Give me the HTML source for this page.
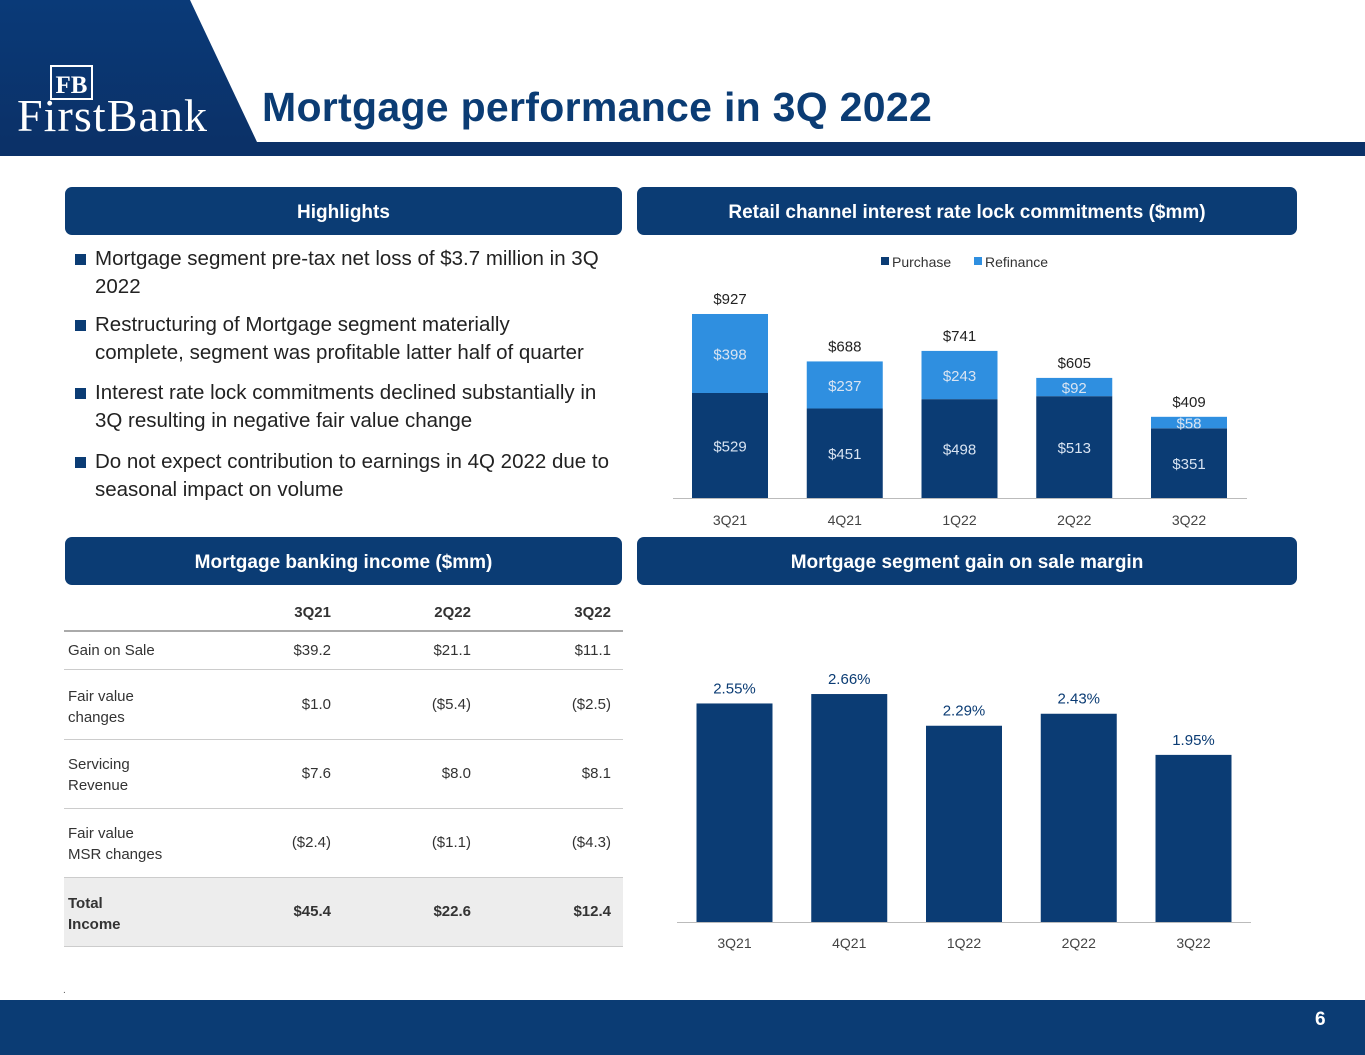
<!DOCTYPE html>
<html><head><meta charset="utf-8"><style>
body{margin:0;width:1365px;height:1055px;position:relative;overflow:hidden;background:#fff;font-family:"Liberation Sans",Arial,sans-serif}
.abs{position:absolute}
.hdr{position:absolute;background:#0b3c74;color:#fff;font-weight:bold;font-size:19px;border-radius:7px;display:flex;align-items:center;justify-content:center;padding-top:4px;box-sizing:border-box}
.bul{position:absolute;left:75px;width:528px;font-size:20.5px;color:#222;line-height:28px}
.bul:before{content:"";position:absolute;left:0;top:9px;width:11px;height:11px;background:#0b3c74}
.bul span{display:block;padding-left:20px}
.tr{position:absolute;left:64px;width:559px;font-size:15px;color:#333}
.tr div{position:absolute}
</style></head><body>
<svg class="abs" style="left:0;top:0" width="1365" height="160">
<defs><linearGradient id="g" x1="0" y1="0" x2="0" y2="1"><stop offset="0" stop-color="#0a3a78"/><stop offset="1" stop-color="#0b3168"/></linearGradient></defs>
<polygon points="0,0 190,0 257,142 0,142" fill="url(#g)"/>
<rect x="0" y="142" width="1365" height="14" fill="#0b3168"/>
<rect x="51" y="66" width="41" height="33" fill="none" stroke="#fff" stroke-width="2"/>
<text x="71.5" y="93" fill="#fff" font-family="Liberation Serif" font-size="25" font-weight="bold" text-anchor="middle">FB</text>
<text x="112" y="131" fill="#fff" font-family="Liberation Serif" font-size="46" text-anchor="middle" textLength="190">FirstBank</text>
</svg>
<div class="abs" style="left:262px;top:84px;font-size:41px;font-weight:bold;color:#0b3c74;letter-spacing:0.3px">Mortgage performance in 3Q 2022</div>

<div class="hdr" style="left:65px;top:187px;width:557px;height:48px">Highlights</div>
<div class="hdr" style="left:637px;top:187px;width:660px;height:48px">Retail channel interest rate lock commitments ($mm)</div>
<div class="hdr" style="left:65px;top:537px;width:557px;height:48px">Mortgage banking income ($mm)</div>
<div class="hdr" style="left:637px;top:537px;width:660px;height:48px">Mortgage segment gain on sale margin</div>

<div class="bul" style="top:245px;width:545px"><span>Mortgage segment pre-tax net loss of $3.7 million in 3Q 2022</span></div>
<div class="bul" style="top:311px"><span>Restructuring of Mortgage segment materially complete, segment was profitable latter half of quarter</span></div>
<div class="bul" style="top:379px"><span>Interest rate lock commitments declined substantially in 3Q resulting in negative fair value change</span></div>
<div class="bul" style="top:448px;width:545px"><span>Do not expect contribution to earnings in 4Q 2022 due to seasonal impact on volume</span></div>

<svg class="abs" id="c1" style="left:0;top:0" width="1365" height="1055"></svg>

<div>
<div class="tr" style="top:596px;height:34px;border-bottom:2px solid #aaa;font-weight:bold"><div style="right:292px;top:8px">3Q21</div><div style="right:152px;top:8px">2Q22</div><div style="right:12px;top:8px">3Q22</div></div>
<div class="tr" style="top:632px;height:37px;border-bottom:1px solid #ccc"><div style="left:4px;top:10px">Gain on Sale</div><div style="right:292px;top:10px">$39.2</div><div style="right:152px;top:10px">$21.1</div><div style="right:12px;top:10px">$11.1</div></div>
<div class="tr" style="top:670px;height:69px;border-bottom:1px solid #ccc"><div style="left:4px;top:16px;line-height:21px">Fair value<br>changes</div><div style="right:292px;top:26px">$1.0</div><div style="right:152px;top:26px">($5.4)</div><div style="right:12px;top:26px">($2.5)</div></div>
<div class="tr" style="top:740px;height:68px;border-bottom:1px solid #ccc"><div style="left:4px;top:14px;line-height:21px">Servicing<br>Revenue</div><div style="right:292px;top:25px">$7.6</div><div style="right:152px;top:25px">$8.0</div><div style="right:12px;top:25px">$8.1</div></div>
<div class="tr" style="top:809px;height:68px;border-bottom:1px solid #ccc"><div style="left:4px;top:14px;line-height:21px">Fair value<br>MSR changes</div><div style="right:292px;top:25px">($2.4)</div><div style="right:152px;top:25px">($1.1)</div><div style="right:12px;top:25px">($4.3)</div></div>
<div class="tr" style="top:878px;height:68px;background:#ededed;border-bottom:1px solid #ccc;font-weight:bold"><div style="left:4px;top:15px;line-height:21px">Total<br>Income</div><div style="right:292px;top:25px">$45.4</div><div style="right:152px;top:25px">$22.6</div><div style="right:12px;top:25px">$12.4</div></div>
</div>

<div class="abs" style="left:63px;top:985px;font-size:10px;color:#555">.</div>
<div class="abs" style="left:0;top:1000px;width:1365px;height:55px;background:#0b3c74"></div>
<div class="abs" style="left:1315px;top:1009px;color:#fff;font-weight:bold;font-size:19px">6</div>

<script>
const cats=["3Q21","4Q21","1Q22","2Q22","3Q22"];
const purchase=[529,451,498,513,351];
const refinance=[398,237,243,92,58];
const totals=[927,688,741,605,409];
const margin=[2.55,2.66,2.29,2.43,1.95];
const NS="http://www.w3.org/2000/svg";
const svg=document.getElementById('c1');
function mk(t,a,txt){const e=document.createElementNS(NS,t);for(const k in a)e.setAttribute(k,a[k]);if(txt!==undefined)e.textContent=txt;svg.appendChild(e);return e;}
const x1=i=>730+i*114.75, y1=v=>498-v*0.1985, bw=76;
cats.forEach((c,i)=>{
 const cx=x1(i);
 let r=mk('rect',{x:cx-bw/2,y:y1(purchase[i]),width:bw,height:498-y1(purchase[i]),fill:'#0b3c74'});
 
 
 let r2=mk('rect',{x:cx-bw/2,y:y1(purchase[i]+refinance[i]),width:bw,height:y1(purchase[i])-y1(purchase[i]+refinance[i]),fill:'#2f8fe0'});
 
 
 mk('text',{x:cx,y:(y1(purchase[i])+498)/2+6,fill:'#d9e4f2','font-size':15,'text-anchor':'middle'},'$'+purchase[i]);
 mk('text',{x:cx,y:(y1(purchase[i])+y1(purchase[i]+refinance[i]))/2+6,fill:'#d9e4f2','font-size':15,'text-anchor':'middle'},'$'+refinance[i]);
 mk('text',{x:cx,y:y1(totals[i])-10,fill:'#222','font-size':15,'text-anchor':'middle'},'$'+totals[i]);
 mk('text',{x:cx,y:525,fill:'#444','font-size':14,'text-anchor':'middle'},c);
});
mk('line',{x1:673,x2:1247,y1:498.5,y2:498.5,stroke:'#bbb'});
mk('rect',{x:881,y:257,width:8,height:8,fill:'#0b3c74'});
mk('text',{x:892,y:267,'font-size':14,fill:'#333'},'Purchase');
mk('rect',{x:974,y:257,width:8,height:8,fill:'#2f8fe0'});
mk('text',{x:985,y:267,'font-size':14,fill:'#333'},'Refinance');
const x2=i=>734.5+i*114.75, y2=v=>922-v*85.7;
cats.forEach((c,i)=>{
 const cx=x2(i);
 let r=mk('rect',{x:cx-38,y:y2(margin[i]),width:76,height:922-y2(margin[i]),fill:'#0b3c74'});
 
 
 mk('text',{x:cx,y:y2(margin[i])-10,fill:'#0b3c74','font-size':15,'text-anchor':'middle'},margin[i].toFixed(2)+'%');
 mk('text',{x:cx,y:948,fill:'#444','font-size':14,'text-anchor':'middle'},c);
});
mk('line',{x1:677,x2:1251,y1:922.5,y2:922.5,stroke:'#bbb'});
</script>
</body></html>
